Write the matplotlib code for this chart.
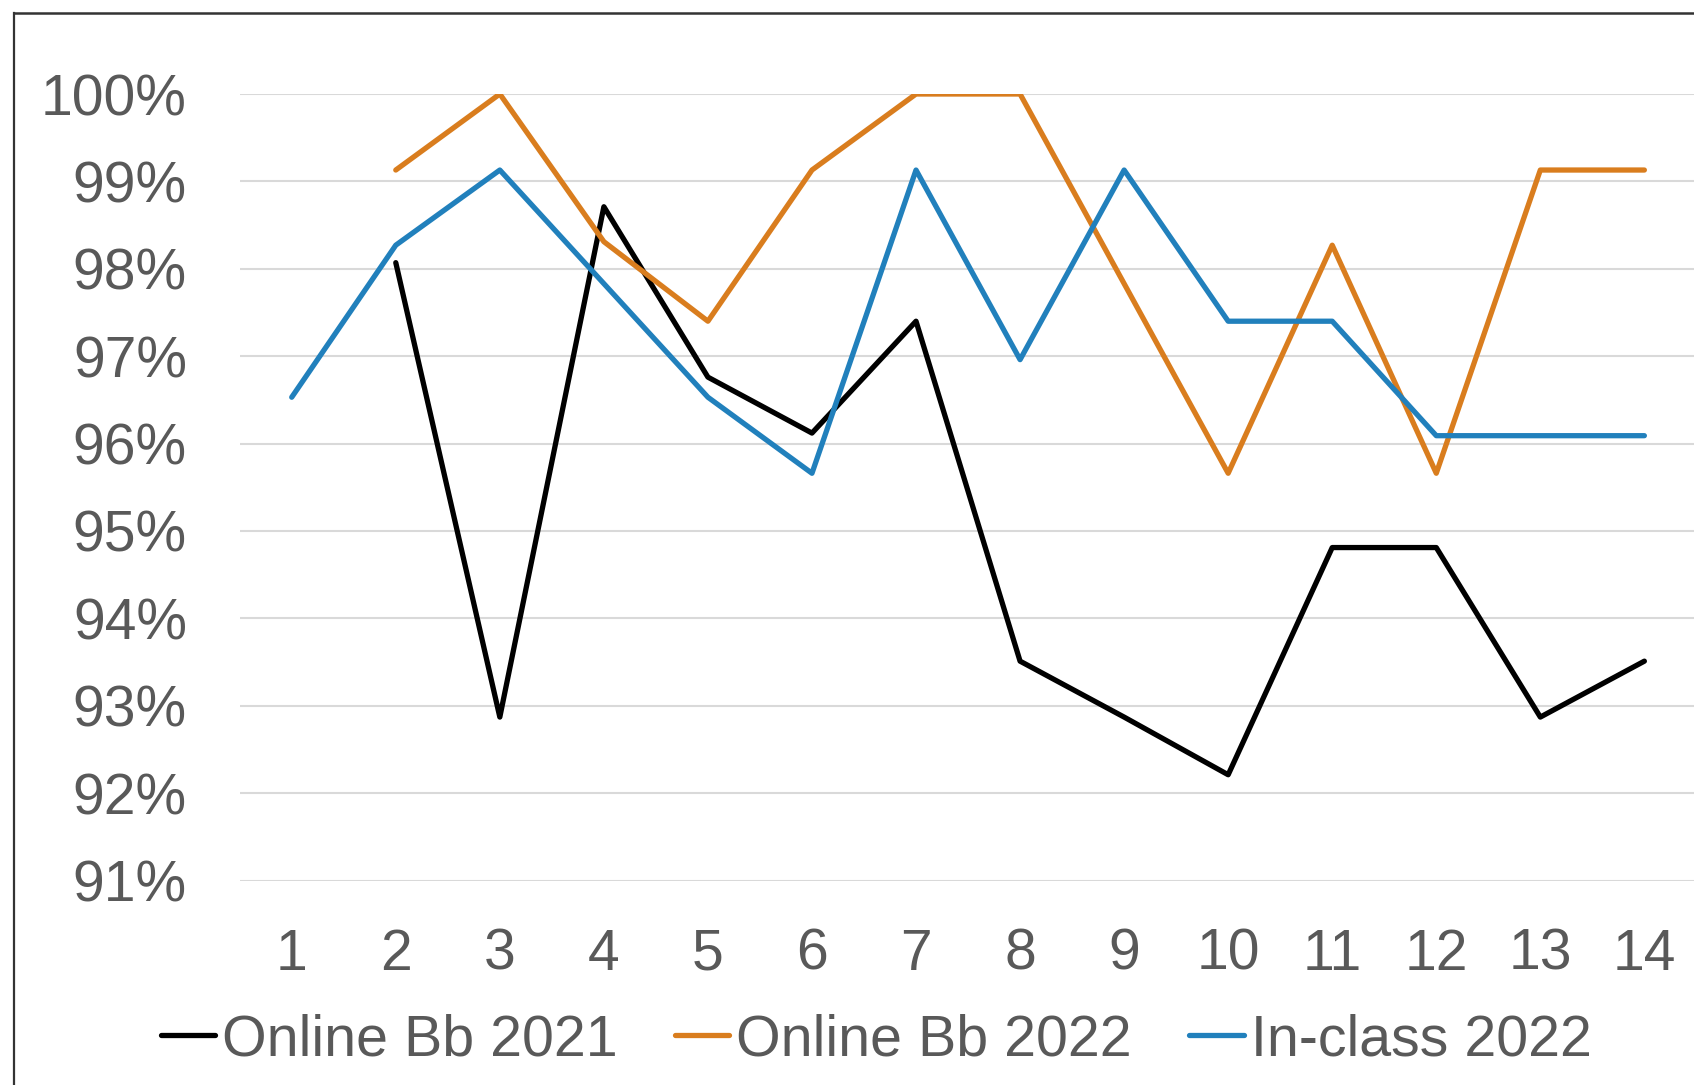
import matplotlib
matplotlib.use("Agg")
import matplotlib.pyplot as plt
from matplotlib.lines import Line2D
from matplotlib.ticker import FuncFormatter

plt.rcParams['font.family'] = ['Liberation Sans', 'DejaVu Sans']

# data
weeks = list(range(1, 15))
week_labels = [str(w) for w in weeks]
bb2021_weeks = list(range(2, 15))
bb2021 = [98.07, 92.87, 98.71, 96.76, 96.12, 97.40, 93.51, 92.87, 92.21, 94.81, 94.81, 92.87, 93.51]
bb2022_weeks = list(range(2, 15))
bb2022 = [99.13, 100.0, 98.31, 97.40, 99.13, 100.0, 100.0, 97.83, 95.66, 98.27, 95.66, 99.13, 99.13]
inclass_weeks = list(range(1, 15))
inclass2022 = [96.53, 98.27, 99.13, 97.83, 96.53, 95.66, 99.13, 96.96, 99.13, 97.40, 97.40, 96.09, 96.09, 96.09]
yticks = [91, 92, 93, 94, 95, 96, 97, 98, 99, 100]

series_names = ['Online Bb 2021', 'Online Bb 2022', 'In-class 2022']
series_colors = ['#000000', '#D97D1E', '#2180BC']

fig = plt.figure(figsize=(16.94, 10.85), dpi=100)
ax = fig.add_axes([239.7 / 1694, 1 - 880.5 / 1085, (1696.4 - 239.7) / 1694, (880.5 - 94) / 1085])

lw = 3.8
ax.plot(bb2021_weeks, bb2021, color=series_colors[0], lw=lw, solid_capstyle='round', solid_joinstyle='round', zorder=3)
ax.plot(bb2022_weeks, bb2022, color=series_colors[1], lw=lw, solid_capstyle='round', solid_joinstyle='round', zorder=3)
ax.plot(inclass_weeks, inclass2022, color=series_colors[2], lw=lw, solid_capstyle='round', solid_joinstyle='round', zorder=3)

ax.set_xlim(0.5, 14.5)
ax.set_ylim(91, 100)
ax.set_yticks(yticks)
ax.yaxis.set_major_formatter(FuncFormatter(lambda v, p: f"{v:.0f}%"))
ax.set_xticks(weeks)
ax.set_xticklabels(week_labels)
ax.grid(axis='y', color='#D9D9D9', lw=1.5, zorder=0)
ax.tick_params(axis='y', length=0, pad=38, labelsize=41, labelcolor='#595959')
ax.tick_params(axis='x', length=0, pad=34, labelsize=41, labelcolor='#595959')
for s in ax.spines.values():
    s.set_visible(False)

# legend
handles = [Line2D([], [], color=c, lw=lw, solid_capstyle='round') for c in series_colors]
leg = fig.legend(handles, series_names, loc='center', ncol=3,
                 bbox_to_anchor=(876 / 1694, 1 - 1040 / 1085),
                 frameon=False, fontsize=41.3, handlelength=0.95,
                 handletextpad=0.12, columnspacing=1.0, borderpad=0)
for t in leg.get_texts():
    t.set_color('#595959')

# chart area border (cropped)
fig.add_artist(Line2D([14 / 1694, 1.01], [1 - 13 / 1085, 1 - 13 / 1085], color='#333333', lw=1.8, transform=fig.transFigure))
fig.add_artist(Line2D([14 / 1694, 14 / 1694], [1 - 13 / 1085, -0.01], color='#333333', lw=1.6, transform=fig.transFigure))

fig.savefig('out.png', dpi=100)
